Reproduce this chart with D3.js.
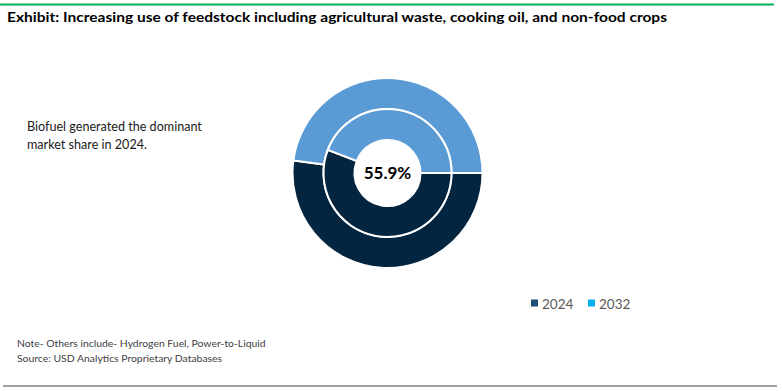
<!DOCTYPE html>
<html>
<head>
<meta charset="utf-8">
<script src="https://cdn.jsdelivr.net/npm/d3@7"></script>
<style>
  body { margin: 0; background: #fff; }
  svg { display: block; font-family: Lato, 'Open Sans', sans-serif; }
</style>
</head>
<body>
<div id="myPlot"></div>
<script>
// segments: dominant share (Biofuel) vs rest
const segments = ['Biofuel', 'Others'];
const share2024 = [55.9, 44.1];   // inner ring
const share2032 = [52.1, 47.9];   // outer ring
const years = ['2024', '2032'];
const centerLabel = '55.9%';

const width = 782;
const height = 391;
const cx = 387.5, cy = 173;

const svg = d3.select('#myPlot')
  .append('svg')
    .attr('width', width)
    .attr('height', height);

// top green rule and bottom grey rule
svg.append('line')
  .attr('x1', 0).attr('x2', 774).attr('y1', 4.5).attr('y2', 4.5)
  .attr('stroke', '#00B050').attr('stroke-width', 2);
svg.append('line')
  .attr('x1', 3).attr('x2', 777).attr('y1', 386).attr('y2', 386)
  .attr('stroke', '#808080').attr('stroke-width', 1.5);

svg.append('text')
  .attr('x', 7).attr('y', 22)
  .attr('font-size', 13.5).attr('font-weight', 'bold').attr('fill', '#000')
  .attr('textLength', 660).attr('lengthAdjust', 'spacingAndGlyphs')
  .text('Exhibit: Increasing use of feedstock including agricultural waste, cooking oil, and non-food crops');

// side comment
const note = svg.append('text')
  .attr('font-size', 12.6).attr('fill', '#1a1a1a');
note.append('tspan').attr('x', 27).attr('y', 131).text('Biofuel generated  the dominant');
note.append('tspan').attr('x', 27).attr('y', 149).text('market share in 2024.');

const color = d3.scaleOrdinal()
  .domain(segments)
  .range(['#03253F', '#5B9BD5']);

// pie starts at 3 o'clock, clockwise
const pie = d3.pie()
  .sort(null)
  .startAngle(Math.PI / 2)
  .endAngle(Math.PI / 2 + 2 * Math.PI)
  .value((d) => d.v);

const rings = [
  { data: share2032, inner: 64, outer: 95 },
  { data: share2024, inner: 33, outer: 64 }
];

const g = svg.append('g')
  .attr('transform', 'translate(' + cx + ',' + cy + ')');

rings.forEach((ring) => {
  const arc = d3.arc().innerRadius(ring.inner).outerRadius(ring.outer);
  const rows = segments.map((s, i) => ({ s: s, v: ring.data[i] }));
  g.selectAll(null)
    .data(pie(rows))
    .enter()
    .append('path')
      .attr('d', arc)
      .attr('fill', (d) => color(d.data.s))
      .attr('stroke', '#fff')
      .attr('stroke-width', 2);
});

g.append('text')
  .attr('text-anchor', 'middle')
  .attr('dy', '0.35em')
  .attr('font-size', 17).attr('font-weight', 'bold').attr('fill', '#000')
  .text(centerLabel);

// legend
const legendColor = d3.scaleOrdinal().domain(years).range(['#1F4E79', '#00B0F0']);
const legend = svg.append('g').attr('transform', 'translate(531,304)');
const lx = [0, 57];
years.forEach((y, i) => {
  legend.append('rect')
    .attr('x', lx[i]).attr('y', -4.5).attr('width', 7).attr('height', 7)
    .attr('fill', legendColor(y));
  legend.append('text')
    .attr('x', lx[i] + 11).attr('y', 0).attr('dy', '0.35em')
    .attr('font-size', 13.5).attr('fill', '#595959')
    .text(y);
});

// footnotes
svg.append('text')
  .attr('x', 17).attr('y', 347)
  .attr('font-size', 10.4).attr('fill', '#404040')
  .text('Note- Others include- Hydrogen Fuel, Power-to-Liquid');
svg.append('text')
  .attr('x', 17).attr('y', 362)
  .attr('font-size', 10.4).attr('fill', '#404040')
  .text('Source: USD Analytics Proprietary Databases');
</script>
</body>
</html>
